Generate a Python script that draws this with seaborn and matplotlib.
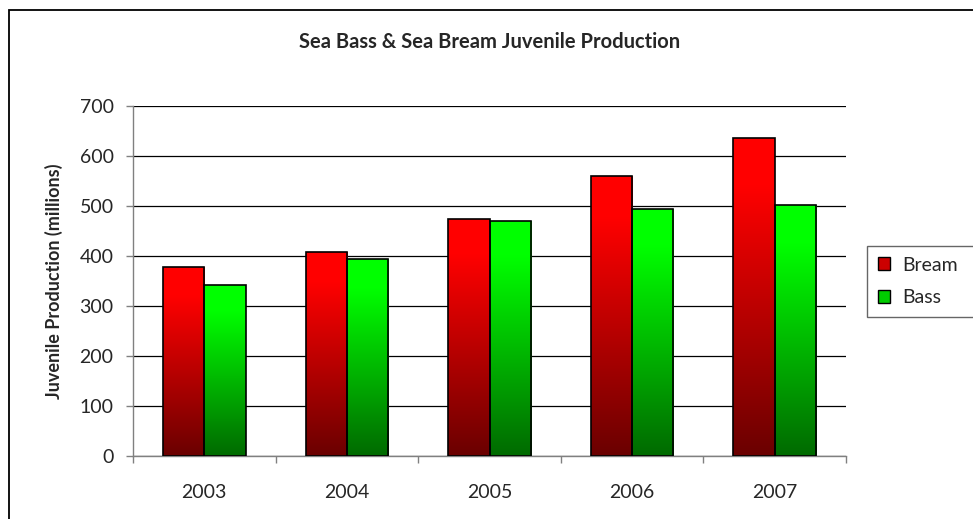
import numpy as np
import pandas as pd
import matplotlib
matplotlib.use("Agg")
import matplotlib.pyplot as plt
import seaborn as sns
from matplotlib.colors import LinearSegmentedColormap
from matplotlib.patches import Rectangle

# Data
years = ["2003", "2004", "2005", "2006", "2007"]
bream = [377, 408, 474, 560, 636]
bass = [342, 394, 470, 494, 501]

df = pd.DataFrame({
    "year": years * 2,
    "value": bream + bass,
    "species": ["Bream"] * len(years) + ["Bass"] * len(years),
})

sns.set_style("white")
plt.rcParams["font.family"] = ["Lato", "DejaVu Sans"]

fig = plt.figure(figsize=(9.73, 5.19), dpi=100)
ax = fig.add_axes([0.1367, 0.1214, 0.7328, 0.6744])

sns.barplot(data=df, x="year", y="value", hue="species",
            palette={"Bream": "#ff0000", "Bass": "#00ff00"},
            width=0.58, gap=0, edgecolor="black", linewidth=1.2,
            legend=False, ax=ax)

# gradient fill for each bar
cmaps = {
    "Bream": LinearSegmentedColormap.from_list("r", [(0, "#6a0000"), (0.85, "#ff0000"), (1, "#ff0000")]),
    "Bass": LinearSegmentedColormap.from_list("g", [(0, "#006a00"), (0.85, "#00ff00"), (1, "#00ff00")]),
}
grad = np.linspace(0, 1, 256).reshape(-1, 1)
n = len(years)
for i, p in enumerate(ax.patches[:2 * n]):
    sp = "Bream" if i < n else "Bass"
    x0 = p.get_x()
    w, h = p.get_width(), p.get_height()
    im = ax.imshow(grad, cmap=cmaps[sp], origin="lower", aspect="auto",
                   extent=[x0, x0 + w, 0, h], zorder=2)
    im.set_clip_path(p)
    p.set_facecolor("none")
    p.set_zorder(3)

ax.set_xlim(-0.5, 4.5)
ax.set_ylim(0, 700)
ax.set_yticks(range(0, 701, 100))
ax.yaxis.grid(True, color="black", linewidth=0.9)
ax.set_axisbelow(True)

ax.set_xticks(np.arange(-0.5, 5.0, 1), minor=True)
ax.tick_params(axis="x", which="major", length=0, labelsize=14, pad=20)
ax.tick_params(axis="x", which="minor", length=5, width=1, color="#808080", direction="out", bottom=True)
ax.tick_params(axis="y", length=5, width=1, color="#808080", direction="out", left=True,
               labelsize=14, pad=9)

for s in ["top", "right"]:
    ax.spines[s].set_visible(False)
for s in ["left", "bottom"]:
    ax.spines[s].set_color("#808080")
    ax.spines[s].set_linewidth(1)

ax.set_xlabel("")
ax.set_ylabel("Juvenile Production (millions)", fontsize=13, fontweight="bold", labelpad=12)

fig.text(0.503, 0.919, "Sea Bass & Sea Bream Juvenile Production",
         ha="center", va="center", fontsize=14.5, fontweight="bold")

# legend
handles = [Rectangle((0, 0), 1, 1, facecolor="#cc0000", edgecolor="black"),
           Rectangle((0, 0), 1, 1, facecolor="#00cc00", edgecolor="black")]
leg = fig.legend(handles, ["Bream", "Bass"], loc="upper left",
                 bbox_to_anchor=(867 / 973, 1 - 316 / 519, 0.2, 70 / 519), mode="expand",
                 frameon=True, fancybox=False,
                 edgecolor="#404040", fontsize=14, handlelength=0.65, handleheight=0.65,
                 handletextpad=0.6, borderpad=0.55, labelspacing=0.8, borderaxespad=0)
leg.get_frame().set_linewidth(1)

# outer chart border
fig.patches.append(Rectangle((0.0093, -0.1), 1.2, 1.0807, transform=fig.transFigure,
                             fill=False, edgecolor="black", linewidth=1.3))

fig.savefig("out.png", dpi=100)
